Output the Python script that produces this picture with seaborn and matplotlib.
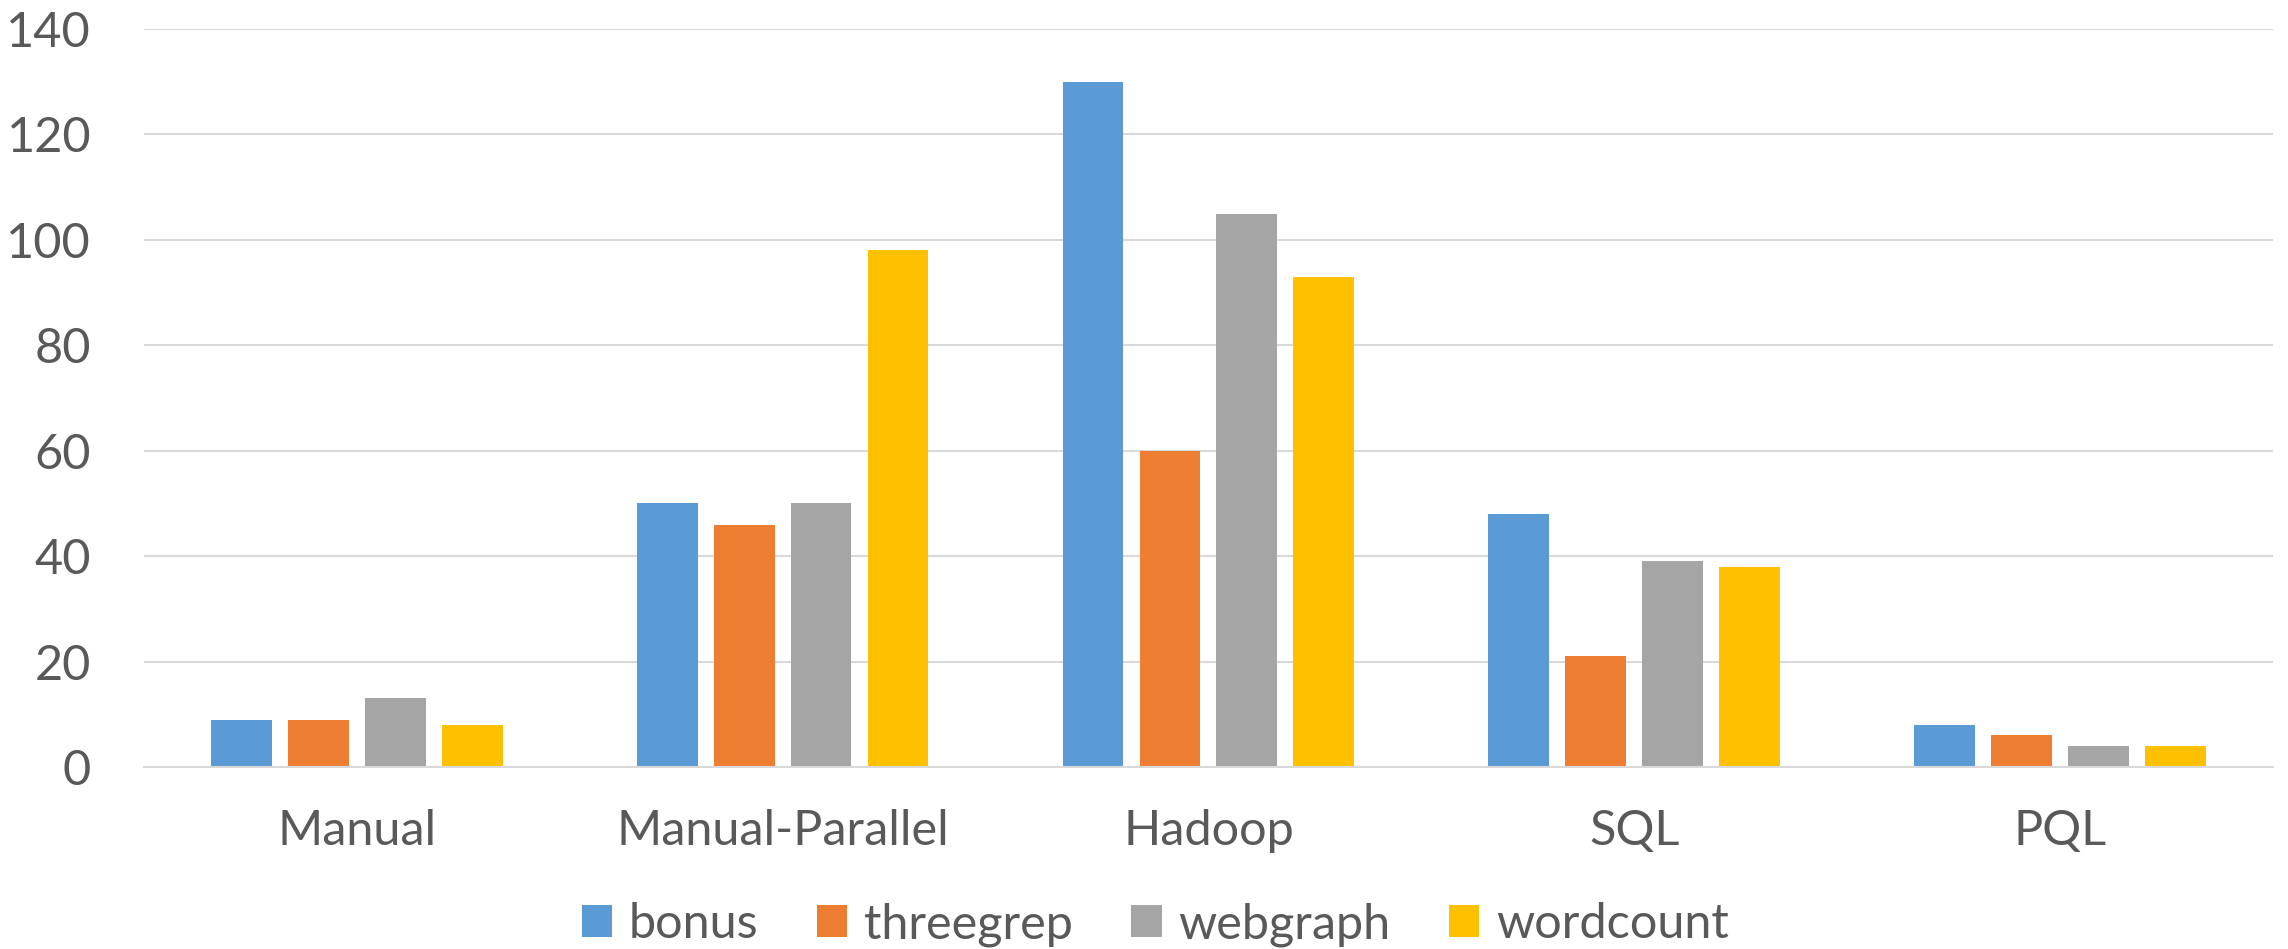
import matplotlib
matplotlib.use("Agg")
import matplotlib.pyplot as plt
import seaborn as sns
import pandas as pd

# Runtime per method and benchmark
methods = ["Manual", "Manual-Parallel", "Hadoop", "SQL", "PQL"]
bonus = [9, 50, 130, 48, 8]
threegrep = [9, 46, 60, 21, 6]
webgraph = [13, 50, 105, 39, 4]
wordcount = [8, 98, 93, 38, 4]

series_names = ["bonus", "threegrep", "webgraph", "wordcount"]
series_colors = ["#5B9BD5", "#ED7D31", "#A5A5A5", "#FFC000"]
y_ticks = [0, 20, 40, 60, 80, 100, 120, 140]

rows = []
for name, vals in zip(series_names, [bonus, threegrep, webgraph, wordcount]):
    for m, v in zip(methods, vals):
        rows.append({"method": m, "benchmark": name, "value": v})
df = pd.DataFrame(rows)

sns.set_theme(style="white")
plt.rcParams["font.family"] = ["Lato", "DejaVu Sans"]
text_color = "#595959"
grid_color = "#D9D9D9"

fig = plt.figure(figsize=(22.88, 9.49), dpi=100)
ax = fig.add_axes([0.0629, 0.1918, 0.9305, 0.7776])

sns.barplot(
    data=df, x="method", y="value", hue="benchmark",
    order=methods, hue_order=series_names,
    palette=series_colors, saturation=1, width=0.723, gap=0.21,
    linewidth=0, ax=ax, legend=True,
)

ax.set_xlim(-0.5, len(methods) - 0.5)
ax.set_ylim(0, 140)
ax.set_yticks(y_ticks)
ax.set_yticklabels([str(t) for t in y_ticks])
ax.set_xlabel("")
ax.set_ylabel("")
ax.yaxis.grid(True, color=grid_color, linewidth=1.5)
ax.set_axisbelow(True)
for side in ["top", "right", "left"]:
    ax.spines[side].set_visible(False)
ax.spines["bottom"].set_color(grid_color)
ax.spines["bottom"].set_linewidth(1.5)
ax.tick_params(axis="both", length=0, labelsize=35, colors=text_color)
ax.tick_params(axis="y", pad=38)
ax.tick_params(axis="x", pad=30)

handles, labels = ax.get_legend_handles_labels()
ax.legend(
    handles, labels, loc="center", bbox_to_anchor=(0.505, 0.026),
    bbox_transform=fig.transFigure, ncol=4, frameon=False,
    fontsize=35, labelcolor=text_color,
    handlelength=0.62, handleheight=0.62, handletextpad=0.35,
    columnspacing=1.2,
)

fig.savefig("out.png", dpi=100)
